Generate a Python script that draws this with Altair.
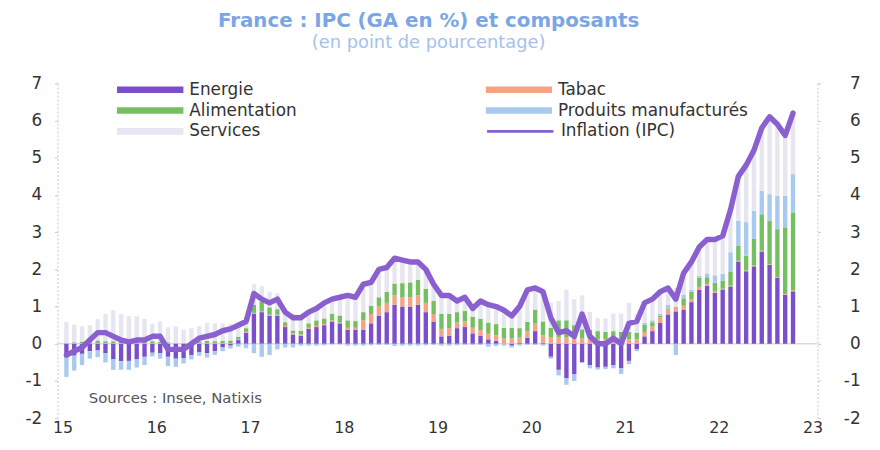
import altair as alt
import pandas as pd

# ---------------- data (monthly, Jan 2015 -> Oct 2022) ----------------
year_labels = [15, 16, 17, 18, 19, 20, 21, 22, 23]

ipc = [
    -0.3, -0.2, -0.1, 0.1, 0.3, 0.3, 0.2, 0.1, 0.05, 0.1, 0.1, 0.2,
    0.2, -0.15, -0.15, -0.15, 0.0, 0.15, 0.2, 0.25, 0.35, 0.4, 0.5, 0.6,
    1.35, 1.2, 1.1, 1.2, 0.85, 0.7, 0.7, 0.85, 0.95, 1.1, 1.2, 1.25,
    1.3, 1.25, 1.6, 1.65, 2.0, 2.05, 2.3, 2.25, 2.2, 2.2, 2.0, 1.6,
    1.3, 1.3, 1.15, 1.25, 0.95, 1.15, 1.05, 1.0, 0.9, 0.75, 1.0, 1.45,
    1.5, 1.4, 0.7, 0.3, 0.35, 0.2, 0.8, 0.2, 0.0, 0.0, 0.15, 0.0,
    0.55, 0.6, 1.1, 1.2, 1.4, 1.5, 1.2, 1.9, 2.2, 2.6, 2.8, 2.8,
    2.9, 3.6, 4.5, 4.8, 5.2, 5.8, 6.1, 5.9, 5.6, 6.2,
]

energie = [
    -0.37, -0.32, -0.27, -0.20, -0.18, -0.25, -0.42, -0.46, -0.46, -0.42, -0.35, -0.24,
    -0.25, -0.35, -0.40, -0.38, -0.30, -0.22, -0.25, -0.20, -0.10, -0.05, 0.10, 0.30,
    0.80, 0.85, 0.75, 0.75, 0.45, 0.25, 0.22, 0.40, 0.45, 0.50, 0.60, 0.55,
    0.38, 0.38, 0.38, 0.55, 0.75, 0.85, 1.05, 1.00, 1.00, 1.05, 0.85, 0.60,
    0.20, 0.22, 0.42, 0.45, 0.28, 0.22, 0.12, 0.08, 0.00, -0.05, 0.02, 0.16,
    0.34, 0.03, -0.35, -0.70, -0.92, -0.82, -0.50, -0.58, -0.64, -0.62, -0.58, -0.66,
    -0.46, -0.15, 0.20, 0.34, 0.56, 0.79, 0.87, 0.92, 1.12, 1.45, 1.56, 1.37,
    1.46, 1.54, 2.21, 1.95, 2.08, 2.48, 2.12, 1.77, 1.32, 1.41,
]

tabac = [
    0.02, 0.02, 0.02, 0.02, 0.02, 0.02, 0.02, 0.02, 0.02, 0.02, 0.02, 0.02,
    0.02, 0.02, 0.02, 0.02, 0.02, 0.02, 0.02, 0.02, 0.02, 0.02, 0.02, 0.02,
    0.03, 0.03, 0.03, 0.03, 0.03, 0.03, 0.03, 0.03, 0.03, 0.03, 0.03, 0.03,
    0.05, 0.05, 0.25, 0.25, 0.25, 0.25, 0.25, 0.25, 0.25, 0.25, 0.25, 0.20,
    0.20, 0.20, 0.15, 0.15, 0.15, 0.15, 0.15, 0.15, 0.15, 0.15, 0.15, 0.18,
    0.20, 0.20, 0.18, 0.18, 0.18, 0.15, 0.15, 0.12, 0.12, 0.12, 0.12, 0.12,
    0.12, 0.12, 0.12, 0.12, 0.15, 0.13, 0.10, 0.10, 0.08, 0.08, 0.05, 0.05,
    0.02, 0.02, 0.02, 0.02, 0.02, 0.02, 0.02, 0.02, 0.02, 0.02,
]

alimentation = [
    0.00, 0.02, 0.04, 0.05, 0.07, 0.05, 0.05, 0.04, 0.03, 0.05, 0.03, 0.05,
    0.03, 0.02, 0.00, 0.00, 0.02, 0.05, 0.06, 0.05, 0.06, 0.07, 0.07, 0.10,
    0.22, 0.25, 0.20, 0.15, 0.10, 0.08, 0.10, 0.12, 0.15, 0.15, 0.18, 0.18,
    0.20, 0.18, 0.22, 0.22, 0.25, 0.30, 0.32, 0.38, 0.40, 0.42, 0.38, 0.35,
    0.40, 0.38, 0.28, 0.28, 0.30, 0.30, 0.30, 0.30, 0.28, 0.28, 0.25, 0.25,
    0.38, 0.37, 0.25, 0.45, 0.45, 0.35, 0.23, 0.25, 0.22, 0.20, 0.22, 0.20,
    0.20, 0.18, 0.20, 0.12, 0.05, 0.03, 0.02, 0.20, 0.20, 0.25, 0.18, 0.22,
    0.22, 0.37, 0.41, 0.40, 0.72, 0.98, 1.17, 1.29, 1.79, 2.10,
]

produits = [
    -0.52, -0.40, -0.30, -0.20, -0.18, -0.25, -0.28, -0.24, -0.24, -0.22, -0.22, -0.10,
    -0.15, -0.25, -0.22, -0.15, -0.12, -0.10, -0.12, -0.10, -0.10, -0.08, -0.08, -0.12,
    -0.25, -0.35, -0.30, -0.15, -0.10, -0.10, -0.05, -0.05, -0.05, -0.04, -0.02, -0.02,
    -0.05, -0.05, -0.05, -0.04, -0.03, -0.03, -0.06, -0.05, -0.05, -0.05, -0.04, -0.03,
    -0.05, -0.05, -0.04, -0.03, -0.03, -0.03, -0.08, -0.06, -0.05, -0.05, -0.05, -0.03,
    -0.03, -0.05, -0.05, -0.15, -0.18, -0.18, 0.03, -0.08, -0.05, -0.06, -0.08, -0.15,
    -0.09, -0.05, 0.04, 0.05, 0.05, 0.10, -0.30, 0.10, 0.05, 0.05, 0.10, 0.20,
    0.18, 0.53, 0.67, 0.90, 0.76, 0.63, 0.71, 0.90, 0.85, 1.03,
]

services = [
    0.57, 0.48, 0.41, 0.43, 0.57, 0.73, 0.83, 0.74, 0.70, 0.67, 0.62, 0.47,
    0.55, 0.40, 0.45, 0.36, 0.38, 0.40, 0.49, 0.48, 0.47, 0.44, 0.39, 0.30,
    0.55, 0.42, 0.42, 0.42, 0.37, 0.44, 0.40, 0.35, 0.37, 0.46, 0.41, 0.51,
    0.72, 0.69, 0.80, 0.67, 0.78, 0.68, 0.74, 0.67, 0.60, 0.53, 0.56, 0.48,
    0.55, 0.55, 0.34, 0.40, 0.25, 0.51, 0.56, 0.53, 0.52, 0.42, 0.63, 0.89,
    0.61, 0.85, 0.67, 0.52, 0.82, 0.70, 0.89, 0.49, 0.35, 0.36, 0.47, 0.49,
    0.78, 0.50, 0.54, 0.57, 0.59, 0.45, 0.51, 0.58, 0.75, 0.77, 0.91, 0.96,
    1.02, 1.14, 1.19, 1.53, 1.62, 1.69, 2.08, 1.92, 1.62, 1.64,
]

# stacking order (from zero outwards)
components = ["Energie", "Tabac", "Alimentation", "Produits manufacturés", "Services"]
# legend order (legend fills column by column)
legend_order = ["Energie", "Alimentation", "Services", "Tabac", "Produits manufacturés"]
legend_colors = ["#7b4fcb", "#74bf60", "#e6e6f0", "#f4a384", "#a9c9ee"]
line_name = "Inflation (IPC)"
line_color = "#8a5fd0"

series = [energie, tabac, alimentation, produits, services]

rows = []
for i in range(len(ipc)):
    t = 15 + (i + 0.5) / 12
    for k, (name, vals) in enumerate(zip(components, series)):
        rows.append({"t": t, "comp": name, "val": vals[i], "ord": k})
bars_df = pd.DataFrame(rows)

line_df = pd.DataFrame({
    "t": [15 + (i + 0.5) / 12 for i in range(len(ipc))],
    "ipc": ipc,
    "serie": [line_name] * len(ipc),
})

FONT = "DejaVu Sans"
ydom = alt.Scale(domain=[-2, 7], nice=False, zero=False)
xscale = alt.Scale(domain=[15, 23], nice=False, zero=False)

x_axis = alt.Axis(values=year_labels, format="d", title=None, domain=False, ticks=False,
                  grid=False, labelFontSize=16, labelFont=FONT, labelColor="#333333",
                  labelPadding=1)

zero_rule = alt.Chart(pd.DataFrame({"z": [0]})).mark_rule(
    color="#e3d5e3", strokeWidth=1.5
).encode(y=alt.Y("z:Q", scale=ydom, axis=None))

bars = alt.Chart(bars_df).mark_bar(size=4.4).encode(
    x=alt.X("t:Q", scale=xscale, axis=x_axis),
    y=alt.Y("val:Q", stack="zero", scale=ydom,
            axis=alt.Axis(values=list(range(-2, 8)), labelExpr="datum.value", title=None,
                          grid=False, domainColor="#c8c8c8", domainDash=[2, 2],
                          tickColor="#c8c8c8", tickSize=3, labelPadding=13,
                          labelFontSize=17, labelFont=FONT, labelColor="#333333")),
    color=alt.Color("comp:N", sort=legend_order,
                    scale=alt.Scale(domain=legend_order, range=legend_colors),
                    legend=alt.Legend(title=None, orient="none", legendX=60, legendY=-3,
                                      columns=2, columnPadding=190, rowPadding=2,
                                      symbolType="M-1,-0.1H1V0.1H-1Z", symbolSize=4489,
                                      symbolStrokeWidth=0, symbolOpacity=1,
                                      clipHeight=19, labelFontSize=17, labelFont=FONT,
                                      labelColor="#333333", labelOffset=6, labelLimit=400)),
    order=alt.Order("ord:Q"),
)

line = alt.Chart(line_df).mark_line(strokeWidth=5.5, strokeJoin="round", strokeCap="round").encode(
    x=alt.X("t:Q", scale=xscale, axis=x_axis),
    y=alt.Y("ipc:Q", scale=ydom,
            axis=alt.Axis(orient="right", values=list(range(-2, 8)), labelExpr="datum.value",
                          title=None, grid=False, domainColor="#c8c8c8", domainDash=[2, 2],
                          tickColor="#c8c8c8", tickSize=3, labelPadding=40,
                          labelAlign="right", labelFontSize=17, labelFont=FONT,
                          labelColor="#333333")),
    stroke=alt.Stroke("serie:N", scale=alt.Scale(domain=[line_name], range=[line_color]),
                      legend=alt.Legend(title=None, orient="none", legendX=432, legendY=39,
                                        symbolType="stroke", symbolSize=4489,
                                        symbolStrokeWidth=3, clipHeight=19,
                                        labelFontSize=17, labelFont=FONT,
                                        labelColor="#333333", labelOffset=6, labelLimit=400)),
)

src_df = pd.DataFrame({"t": [15.28], "y": [-1.45], "label": ["Sources : Insee, Natixis"]})
sources = alt.Chart(src_df).mark_text(align="left", baseline="middle", fontSize=15,
                                      font=FONT, color="#555555").encode(
    x=alt.X("t:Q", scale=xscale, axis=x_axis),
    y=alt.Y("y:Q", scale=ydom, axis=None),
    text="label:N",
)

chart = alt.layer(zero_rule, bars, line, sources).resolve_scale(
    y="independent"
).properties(
    width=767,
    height=338,
    autosize=alt.AutoSizeParams(type="none"),
    padding={"left": 50, "top": 74, "right": 55, "bottom": 21},
    background="white",
    title=alt.TitleParams(
        text="France : IPC (GA en %) et composants",
        subtitle="(en point de pourcentage)",
        anchor="middle", font=FONT, fontSize=20, fontWeight="bold", color="#7aa6e6",
        subtitleFont=FONT, subtitleFontSize=18, subtitleColor="#a4c2ee",
        offset=23, dx=-9, subtitlePadding=3,
    ),
).configure_view(stroke=None)

chart.save("out.html", embed_options={"renderer": "svg", "actions": False})
